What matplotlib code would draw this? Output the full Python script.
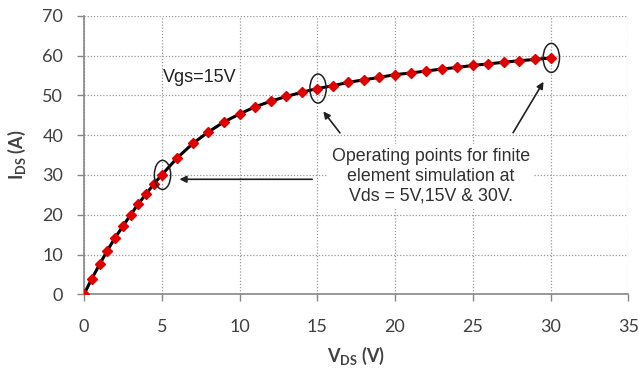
import numpy as np
import matplotlib
matplotlib.use("Agg")
from matplotlib import pyplot as plt
from matplotlib.patches import Ellipse

# drain current vs drain voltage, Vgs = 15 V
vds = [0, 0.5, 1, 1.5, 2, 2.5, 3, 3.5, 4, 4.5, 5,
       6, 7, 8, 9, 10, 11, 12, 13, 14, 15, 16, 17, 18, 19, 20,
       21, 22, 23, 24, 25, 26, 27, 28, 29, 30]
ids = [0, 3.9, 7.5, 11.0, 14.2, 17.1, 20.0, 22.75, 25.25, 27.75, 30.0,
       34.3, 37.9, 40.8, 43.3, 45.3, 47.1, 48.5, 49.7, 50.75, 51.7, 52.4,
       53.25, 53.9, 54.5, 55.2, 55.6, 56.1, 56.6, 57.0, 57.5, 57.9, 58.3,
       58.7, 59.0, 59.4]
op_points = [5, 15, 30]
x_ticks = [0, 5, 10, 15, 20, 25, 30, 35]
y_ticks = [0, 10, 20, 30, 40, 50, 60, 70]

plt.rcParams['mathtext.fontset'] = 'custom'
plt.rcParams['mathtext.rm'] = 'Lato'
plt.rcParams['mathtext.bf'] = 'Lato:bold'

fig = plt.figure(figsize=(6.39, 3.70), dpi=100)
ax = fig.add_axes([84/639, 1 - 294.3/370, (628.3 - 84)/639, (294.3 - 15.7)/370])

grey = '#868686'
txt = '#404040'

ax.plot(vds, ids, color='black', lw=2.2, zorder=3)
ax.plot(vds, ids, ls='none', marker='D', ms=4.6, color='#e00000', zorder=4)

ax.set_xlim(0, 35)
ax.set_ylim(0, 70)
ax.set_xticks(x_ticks)
ax.set_yticks(y_ticks)
ax.grid(True, color='#999999', ls=(0, (1, 1.5)), lw=0.9)
ax.set_axisbelow(True)
for s in ['top', 'right']:
    ax.spines[s].set_visible(False)
for s in ['left', 'bottom']:
    ax.spines[s].set_color(grey)
    ax.spines[s].set_linewidth(1.2)
ax.tick_params(colors=grey, length=5, width=1, labelcolor=txt, labelsize=13)
for lab in ax.get_xticklabels() + ax.get_yticklabels():
    lab.set_fontfamily('Lato')
ax.tick_params(axis='x', pad=13)
ax.tick_params(axis='y', pad=10)

ax.set_xlabel(r'$\mathbf{V_{DS}}$ (V)', fontsize=13, fontfamily='Lato',
              fontweight='bold', color=txt, labelpad=7)
ax.set_ylabel(r'$\mathbf{I_{DS}}$ (A)', fontsize=13, fontfamily='Lato',
              fontweight='bold', color=txt, labelpad=10)

# circles around operating points
for v in op_points:
    ax.add_patch(Ellipse((v + 0.05, ids[vds.index(v)]), 1.05, 7.3, fill=False,
                         ec='#202020', lw=1.1, zorder=5))

ax.text(5.1, 54.4, 'Vgs=15V', fontsize=13, fontfamily='Liberation Sans',
        color='#202020', va='center', ha='left')

ax.text(22.3, 29.6, 'Operating points for finite\nelement simulation at\nVds = 5V,15V & 30V.',
        fontsize=12.8, fontfamily='Liberation Sans', color='#303030',
        ha='center', va='center', linespacing=1.2, zorder=6,
        bbox=dict(fc='white', ec='none', pad=3))

arrow = dict(arrowstyle='-|>', color='#202020', lw=1.2, mutation_scale=10)
ax.annotate('', xy=(5.96, 28.9), xytext=(14.85, 28.9), arrowprops=arrow, zorder=7)
ax.annotate('', xy=(15.28, 46.5), xytext=(16.57, 40.0), arrowprops=arrow, zorder=7)
ax.annotate('', xy=(29.64, 54.0), xytext=(27.5, 40.0), arrowprops=arrow, zorder=7)

fig.savefig('out.png', dpi=100)
